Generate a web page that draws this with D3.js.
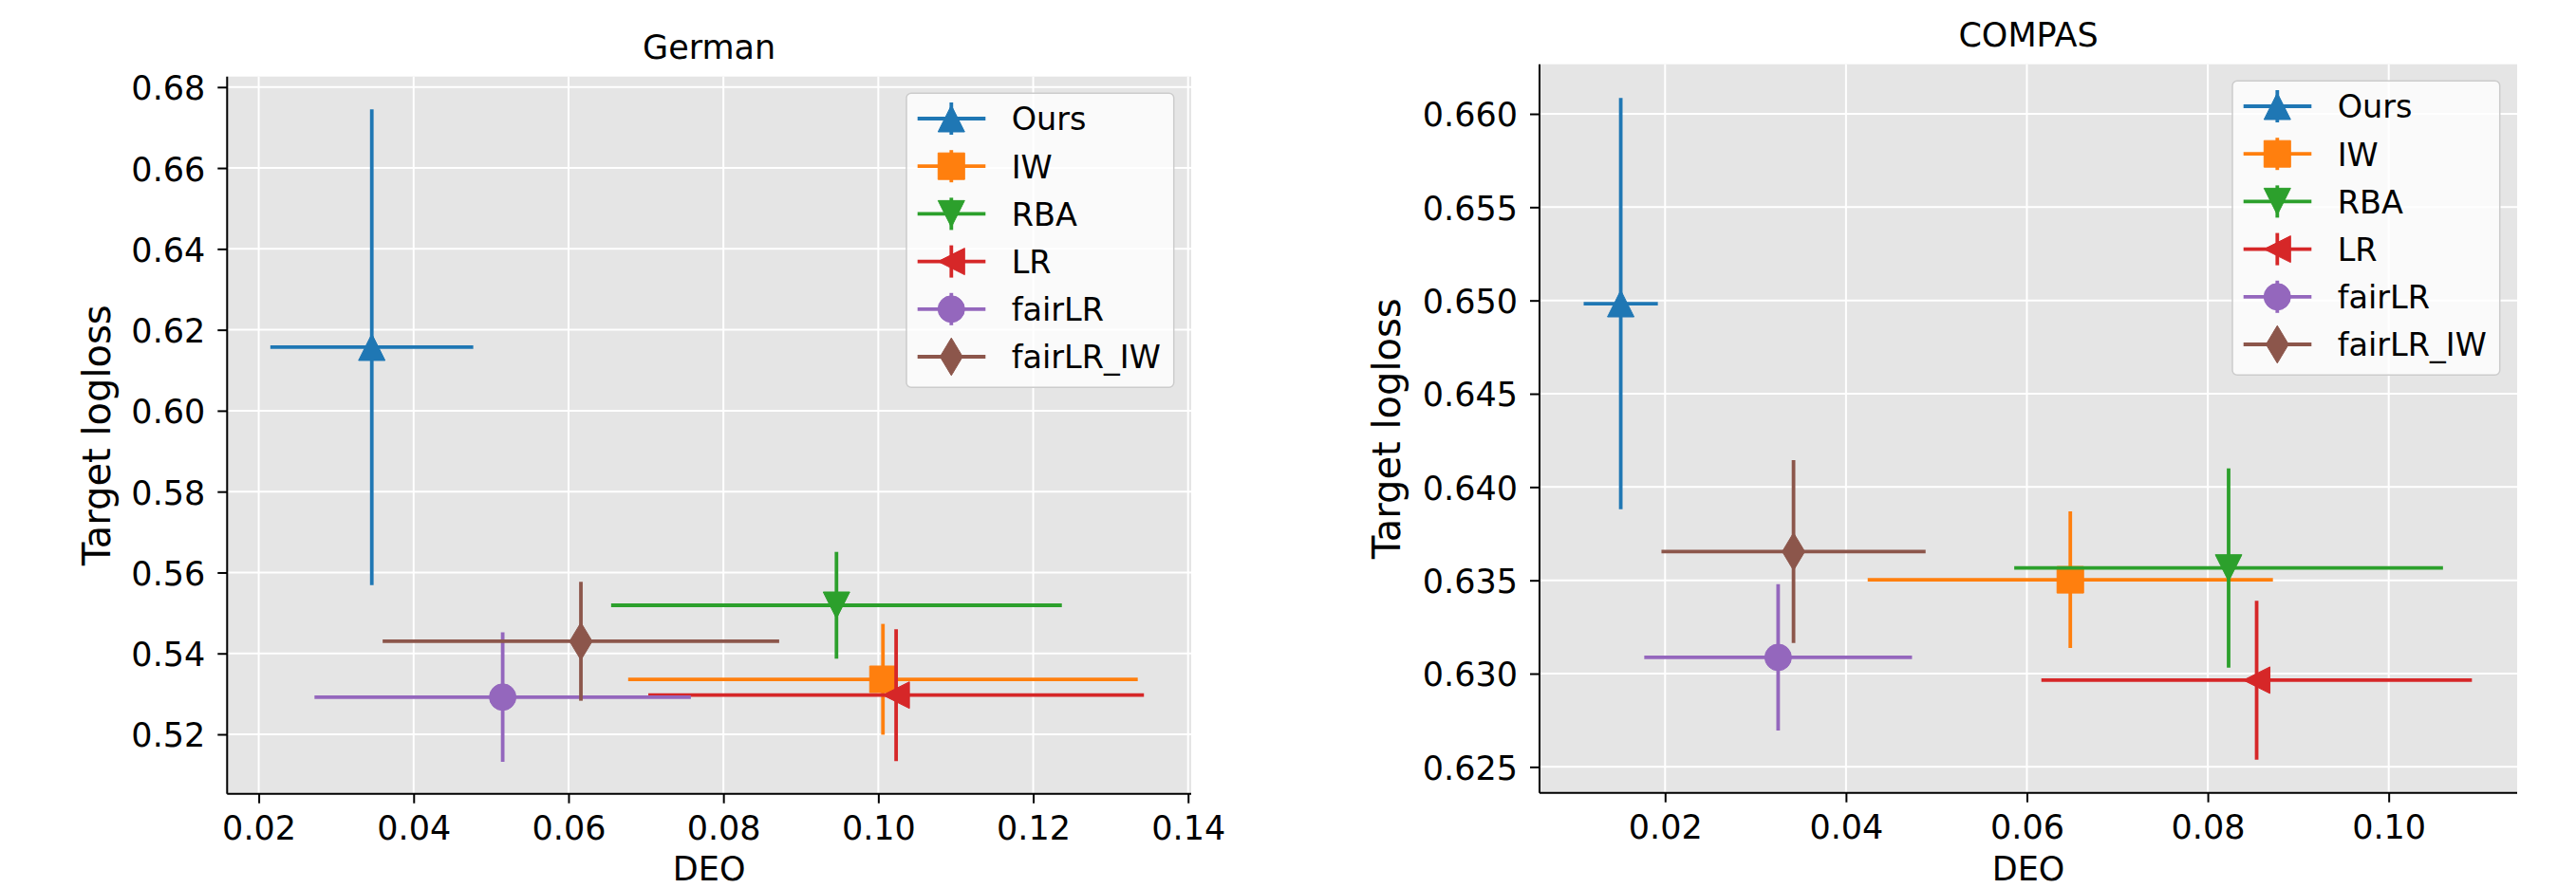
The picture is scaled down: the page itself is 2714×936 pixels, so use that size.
<!DOCTYPE html>
<html>
<head>
<meta charset="utf-8">
<script src="https://cdn.jsdelivr.net/npm/d3@7"></script>
<style>
  body { margin: 0; background: #fff; }
  svg { display: block; font-family: "DejaVu Sans", sans-serif; }
</style>
</head>
<body>
<div id="container"></div>
<script>
const methods = ["Ours", "IW", "RBA", "LR", "fairLR", "fairLR_IW"];
const colors = ["#1f77b4", "#ff7f0e", "#2ca02c", "#d62728", "#9467bd", "#8c564b"];
const markers = ["triangle-up", "square", "triangle-down", "triangle-left", "circle", "thin-diamond"];

// German: DEO (x) and target logloss (y), mean and half error
const germanDeo = [0.0346, 0.1006, 0.0946, 0.1023, 0.0515, 0.0616];
const germanDeoErr = [0.0131, 0.0329, 0.0291, 0.0320, 0.0243, 0.0256];
const germanLoss = [0.6157, 0.5336, 0.5519, 0.5297, 0.5292, 0.5430];
const germanLossErr = [0.0588, 0.0137, 0.0132, 0.0163, 0.0160, 0.0147];
const germanDeoTicks = [0.02, 0.04, 0.06, 0.08, 0.10, 0.12, 0.14];
const germanLossTicks = [0.52, 0.54, 0.56, 0.58, 0.60, 0.62, 0.64, 0.66, 0.68];

// COMPAS
const compasDeo = [0.0151, 0.0648, 0.0823, 0.0854, 0.0325, 0.0342];
const compasDeoErr = [0.0041, 0.0224, 0.0237, 0.0238, 0.0148, 0.0146];
const compasLoss = [0.64983, 0.63503, 0.63566, 0.62965, 0.63087, 0.63654];
const compasLossErr = [0.01102, 0.00366, 0.00534, 0.00426, 0.00392, 0.00490];
const compasDeoTicks = [0.02, 0.04, 0.06, 0.08, 0.10];
const compasLossTicks = [0.625, 0.630, 0.635, 0.640, 0.645, 0.650, 0.655, 0.660];

let w = 2714;
let h = 936;
let ms = 28;
let lineW = 3.8;

let svg = d3.select("#container")
  .append("svg")
  .attr("width", w)
  .attr("height", h)
  .style("background-color", "#fff");

function markerPath(type, s) {
  let r = s / 2;
  if (type == "triangle-up") return `M0,${-r}L${-r},${r}L${r},${r}Z`;
  if (type == "triangle-down") return `M0,${r}L${-r},${-r}L${r},${-r}Z`;
  if (type == "triangle-left") return `M${-r},0L${r},${-r}L${r},${r}Z`;
  if (type == "square") return `M${-r},${-r}H${r}V${r}H${-r}Z`;
  if (type == "circle") return `M${r},0A${r},${r} 0 1 1 ${-r},0A${r},${r} 0 1 1 ${r},0Z`;
  // thin diamond
  let hh = s * Math.SQRT1_2, hw = 0.6 * hh;
  return `M0,${-hh}L${hw},0L0,${hh}L${-hw},0Z`;
}

function drawPanel(p) {
  let x = d3.scaleLinear().domain(p.xDomain).range([p.left, p.right]);
  let y = d3.scaleLinear().domain(p.yDomain).range([p.bottom, p.top]);
  let g = svg.append("g");

  // background
  g.append("rect")
    .attr("x", p.left).attr("y", p.top)
    .attr("width", p.right - p.left).attr("height", p.bottom - p.top)
    .attr("fill", "#e5e5e5");

  // grid
  g.selectAll(".gx").data(p.xTicks).enter().append("line")
    .attr("x1", d => x(d)).attr("x2", d => x(d))
    .attr("y1", p.top).attr("y2", p.bottom)
    .attr("stroke", "#fff").attr("stroke-width", 2);
  g.selectAll(".gy").data(p.yTicks).enter().append("line")
    .attr("x1", p.left).attr("x2", p.right)
    .attr("y1", d => y(d)).attr("y2", d => y(d))
    .attr("stroke", "#fff").attr("stroke-width", 2);

  // error bars + markers, series by series
  methods.forEach((m, i) => {
    let c = colors[i];
    let cx = x(p.xs[i]), cy = y(p.ys[i]);
    g.append("line")
      .attr("x1", x(p.xs[i] - p.xErr[i])).attr("x2", x(p.xs[i] + p.xErr[i]))
      .attr("y1", cy).attr("y2", cy)
      .attr("stroke", c).attr("stroke-width", lineW);
    g.append("line")
      .attr("x1", cx).attr("x2", cx)
      .attr("y1", y(p.ys[i] - p.yErr[i])).attr("y2", y(p.ys[i] + p.yErr[i]))
      .attr("stroke", c).attr("stroke-width", lineW);
    g.append("path")
      .attr("d", markerPath(markers[i], ms))
      .attr("transform", `translate(${cx},${cy})`)
      .attr("fill", c).attr("stroke", c).attr("stroke-width", 1);
  });

  // axes
  let xAxis = g.append("g")
    .attr("transform", `translate(0,${p.bottom})`)
    .call(d3.axisBottom(x).tickValues(p.xTicks).tickFormat(d3.format(".2f"))
      .tickSize(10).tickSizeOuter(0).tickPadding(13.5));
  let yAxis = g.append("g")
    .attr("transform", `translate(${p.left},0)`)
    .call(d3.axisLeft(y).tickValues(p.yTicks).tickFormat(d3.format(p.yFormat))
      .tickSize(10).tickSizeOuter(0).tickPadding(13));
  [xAxis, yAxis].forEach(a => {
    a.selectAll("path, line").attr("stroke", "#000").attr("stroke-width", 2);
    a.selectAll("text")
      .attr("fill", "#000")
      .style("font-family", "DejaVu Sans")
      .style("font-size", "35px");
  });
  yAxis.selectAll("text").attr("dy", "0.37em");
  // spine drawn across the whole extent
  xAxis.select(".domain").attr("d", `M${p.left},0H${p.right}`);
  yAxis.select(".domain").attr("d", `M0,${p.top}V${p.bottom}`);

  let cxm = (p.left + p.right) / 2;
  g.append("text")
    .attr("x", cxm).attr("y", p.titleY)
    .attr("text-anchor", "middle")
    .style("font-size", "35px")
    .text(p.title);
  g.append("text")
    .attr("x", cxm).attr("y", 927.5)
    .attr("text-anchor", "middle")
    .style("font-size", "35px")
    .text("DEO");
  g.append("text")
    .attr("transform", `translate(${p.yLabelX},${(p.top + p.bottom) / 2}) rotate(-90)`)
    .attr("text-anchor", "middle")
    .style("font-size", "40px")
    .text("Target logloss");

  // legend
  let lw = 281.7, lh = 310;
  let lx = p.right - 18.3 - lw, ly = p.top + 17.6;
  let leg = g.append("g");
  leg.append("rect")
    .attr("x", lx).attr("y", ly).attr("width", lw).attr("height", lh)
    .attr("rx", 5)
    .attr("fill", "rgba(255,255,255,0.8)")
    .attr("stroke", "#cccccc").attr("stroke-width", 1.5);
  methods.forEach((m, i) => {
    let ry = ly + 26.7 + i * 50.2;
    let mx = lx + 47.3;
    leg.append("line")
      .attr("x1", lx + 11.7).attr("x2", lx + 83.3)
      .attr("y1", ry).attr("y2", ry)
      .attr("stroke", colors[i]).attr("stroke-width", lineW);
    leg.append("line")
      .attr("x1", mx).attr("x2", mx)
      .attr("y1", ry - 17).attr("y2", ry + 17)
      .attr("stroke", colors[i]).attr("stroke-width", lineW);
    leg.append("path")
      .attr("d", markerPath(markers[i], ms))
      .attr("transform", `translate(${mx},${ry})`)
      .attr("fill", colors[i]).attr("stroke", colors[i]).attr("stroke-width", 1);
    leg.append("text")
      .attr("x", lx + 110.7).attr("y", ry + 12.3)
      .style("font-size", "33.5px")
      .text(m);
  });
}

drawPanel({
  title: "German", titleY: 61.5,
  left: 239.3, right: 1255, top: 80.7, bottom: 836.7,
  xDomain: [0.01592, 0.1404], yDomain: [0.5053, 0.6826],
  xTicks: germanDeoTicks, yTicks: germanLossTicks, yFormat: ".2f",
  xs: germanDeo, xErr: germanDeoErr, ys: germanLoss, yErr: germanLossErr,
  yLabelX: 115.5
});

drawPanel({
  title: "COMPAS", titleY: 48.5,
  left: 1622, right: 2652, top: 67.7, bottom: 835.7,
  xDomain: [0.00612, 0.1142], yDomain: [0.62361, 0.66266],
  xTicks: compasDeoTicks, yTicks: compasLossTicks, yFormat: ".3f",
  xs: compasDeo, xErr: compasDeoErr, ys: compasLoss, yErr: compasLossErr,
  yLabelX: 1474.7
});
</script>
</body>
</html>
